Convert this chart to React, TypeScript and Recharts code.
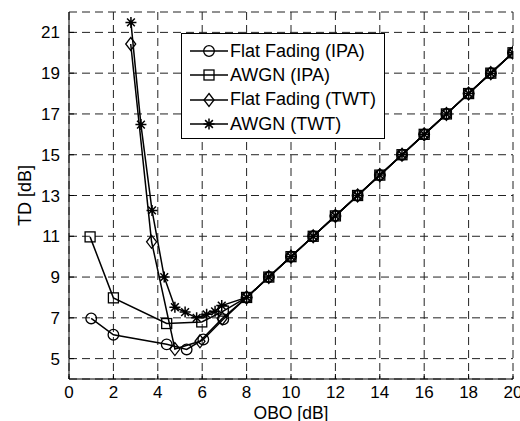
import React from "react";
import {
  LineChart,
  Line,
  XAxis,
  YAxis,
  CartesianGrid,
} from "recharts";

// shared tail, all four curves coincide from 8 dB on
const OBO_TAIL = [8, 9, 10, 11, 12, 13, 14, 15, 16, 17, 18, 19, 20];
const TD_TAIL = [8, 9, 10, 11, 12, 13, 14, 15, 16, 17, 18, 19, 20];

const fadingIpaObo = [1, 2, 4.4, 5.3, 6.05, 6.95];
const fadingIpaTd = [6.97, 6.17, 5.7, 5.45, 5.94, 6.93];

const awgnIpaObo = [0.95, 2, 4.4, 5.98, 6.95];
const awgnIpaTd = [10.97, 7.98, 6.72, 6.8, 7.33];

const fadingTwtObo = [2.78, 3.72, 4.77, 5.9, 6.9];
const fadingTwtTd = [20.43, 10.73, 5.47, 5.85, 6.97];

const awgnTwtObo = [2.79, 3.24, 3.74, 4.29, 4.77, 5.23, 5.75, 6.2, 6.58, 6.88];
const awgnTwtTd = [21.49, 16.48, 12.27, 9.0, 7.52, 7.28, 7.0, 7.17, 7.32, 7.6];

const X_TICKS = [0, 2, 4, 6, 8, 10, 12, 14, 16, 18, 20];
const Y_TICKS = [5, 7, 9, 11, 13, 15, 17, 19, 21];

const toRows = (xs: number[], ys: number[]) =>
  xs.concat(OBO_TAIL).map((x, i) => ({ x, y: ys.concat(TD_TAIL)[i] }));

const FONT = "'Liberation Sans', Arial, sans-serif";

type Shape = "circle" | "square" | "diamond" | "star";

const Marker = ({ cx, cy, shape }: { cx: number; cy: number; shape: Shape }) => {
  const s = { stroke: "#000", strokeWidth: 1.3, fill: "none" };
  if (shape === "circle") return <circle cx={cx} cy={cy} r={5.3} {...s} />;
  if (shape === "square")
    return <rect x={cx - 5} y={cy - 5} width={10} height={10} {...s} />;
  if (shape === "diamond")
    return (
      <path
        d={`M${cx},${cy - 6.5}L${cx + 5},${cy}L${cx},${cy + 6.5}L${cx - 5},${cy}Z`}
        {...s}
      />
    );
  const r = 5.5;
  const d = r * 0.707;
  return (
    <path
      d={`M${cx - r},${cy}H${cx + r}M${cx},${cy - r}V${cy + r}M${cx - d},${cy - d}L${cx + d},${cy + d}M${cx - d},${cy + d}L${cx + d},${cy - d}`}
      {...s}
      strokeWidth={1.5}
    />
  );
};

const dotFor = (shape: Shape) => (p: any) =>
  p.cx == null ? <g key={p.index} /> : <Marker key={p.index} cx={p.cx} cy={p.cy} shape={shape} />;

const SERIES: { name: string; shape: Shape; data: { x: number; y: number }[] }[] = [
  { name: "Flat Fading (IPA)", shape: "circle", data: toRows(fadingIpaObo, fadingIpaTd) },
  { name: "AWGN (IPA)", shape: "square", data: toRows(awgnIpaObo, awgnIpaTd) },
  { name: "Flat Fading (TWT)", shape: "diamond", data: toRows(fadingTwtObo, fadingTwtTd) },
  { name: "AWGN (TWT)", shape: "star", data: toRows(awgnTwtObo, awgnTwtTd) },
];

const LegendBox = () => (
  <div
    style={{
      position: "absolute",
      left: 181,
      top: 33,
      width: 194,
      background: "#fff",
      border: "1px solid #000",
      padding: "5px 0 2px 8px",
      fontFamily: FONT,
      fontSize: 18,
      lineHeight: "24.2px",
      color: "#000",
    }}
  >
    {SERIES.map((s) => (
      <div key={s.name} style={{ display: "flex", alignItems: "center", whiteSpace: "nowrap" }}>
        <svg width={38} height={16} style={{ marginRight: 2 }}>
          <line x1={0} y1={8} x2={38} y2={8} stroke="#000" strokeWidth={1.5} />
          <Marker cx={19} cy={8} shape={s.shape} />
        </svg>
        {s.name}
      </div>
    ))}
  </div>
);

const tickStyle = { fill: "#000", fontSize: 17, fontFamily: FONT };
const noLabel = () => <g />;

export default function App() {
  return (
    <div style={{ position: "absolute", left: 0, top: 0, width: 520, height: 421, background: "#fff", overflow: "hidden" }}>
      <LineChart
        width={520}
        height={421}
        margin={{ top: 12, right: 7, bottom: 12, left: 9 }}
      >
        <CartesianGrid
          stroke="#222"
          strokeDasharray="8 5"
          strokeWidth={1}
          xAxisId="b"
          yAxisId="l"
        />
        <XAxis
          xAxisId="b"
          type="number"
          dataKey="x"
          domain={[0, 20]}
          ticks={X_TICKS}
          interval={0}
          tickSize={-5}
          tickMargin={12}
          height={30}
          tick={tickStyle}
          stroke="#000"
          allowDataOverflow
          label={{
            value: "OBO [dB]",
            position: "insideBottom",
            offset: -10,
            style: { fill: "#000", fontSize: 17.5, fontFamily: FONT },
          }}
        />
        <XAxis
          xAxisId="t"
          orientation="top"
          type="number"
          dataKey="x"
          domain={[0, 20]}
          ticks={X_TICKS}
          interval={0}
          tickSize={-5}
          height={0}
          tick={noLabel}
          stroke="#000"
        />
        <YAxis
          yAxisId="l"
          type="number"
          domain={[4, 22]}
          ticks={Y_TICKS}
          interval={0}
          tickSize={-5}
          tickMargin={14}
          width={60}
          tick={tickStyle}
          stroke="#000"
          allowDataOverflow
          label={{
            value: "TD [dB]",
            angle: -90,
            position: "insideLeft",
            offset: 16,
            style: { fill: "#000", fontSize: 18, fontFamily: FONT, textAnchor: "middle" },
          }}
        />
        <YAxis
          yAxisId="r"
          orientation="right"
          type="number"
          domain={[4, 22]}
          ticks={Y_TICKS}
          interval={0}
          tickSize={-5}
          width={0}
          tick={noLabel}
          stroke="#000"
        />
        {SERIES.map((s) => (
          <Line
            key={s.name}
            xAxisId="b"
            yAxisId="l"
            data={s.data}
            dataKey="y"
            name={s.name}
            type="linear"
            stroke="#000"
            strokeWidth={1.5}
            dot={dotFor(s.shape)}
            activeDot={false}
            isAnimationActive={false}
          />
        ))}
      </LineChart>
      <LegendBox />
    </div>
  );
}
